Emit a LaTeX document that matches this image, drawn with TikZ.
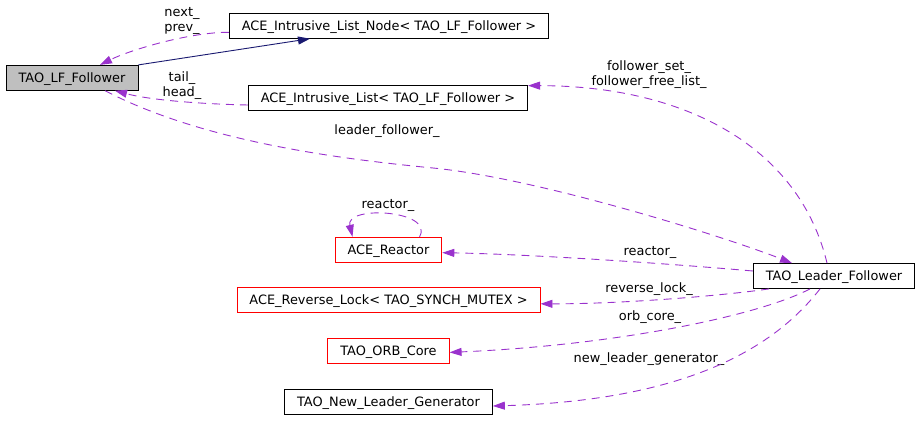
\documentclass[tikz,border=0pt]{standalone}
\usepackage{fontspec}
\setmainfont{DejaVu Sans}
\usetikzlibrary{positioning,arrows.meta}
\definecolor{edgepurple}{HTML}{9A32CD}
\definecolor{basenavy}{HTML}{191970}
\definecolor{nodegray}{HTML}{BFBFBF}
\begin{document}
\begin{tikzpicture}[x=1pt,y=-1pt,
    font=\fontsize{12.9pt}{15pt}\selectfont,
    node distance=50.6pt,
    cls/.style={draw=black,line width=0.8pt,minimum height=25pt,inner xsep=12.5pt,text height=9.3pt,text depth=0pt},
    redcls/.style={cls,draw=red},
    lnk/.style={draw=edgepurple,line width=0.9pt,dash pattern=on 8pt off 6pt,-{Triangle[length=12pt,width=8pt]}},
    lbl/.style={inner sep=0pt,align=center}]
    \useasboundingbox (0,0) rectangle (920,420);
    \node[cls,fill=nodegray] (c0) at (72,77.8) {TAO\_LF\_Follower};
      \node[cls] (c1) at (389,25.8) {ACE\_Intrusive\_List\_Node< TAO\_LF\_Follower >};
      \node[cls] (c2) at (388,97.5) {ACE\_Intrusive\_List< TAO\_LF\_Follower >};
      \node[cls] (c3) at (834,276) {TAO\_Leader\_Follower};
      \node[redcls] (c4) at (388.5,249.7) {ACE\_Reactor};
      \node[redcls, below of=c4] (c5) {ACE\_Reverse\_Lock< TAO\_SYNCH\_MUTEX >};
      \node[redcls, below of=c5] (c6) {TAO\_ORB\_Core};
      \node[cls, below of=c6] (c7) {TAO\_New\_Leader\_Generator};
      \node[lbl] (l0) at (182,20.5) {next\_\\prev\_};
      \node[lbl] (l1) at (182,86) {tail\_\\head\_};
      \node[lbl] (l2) at (387,131) {leader\_follower\_};
      \node[lbl] (l3) at (649,75) {follower\_set\_\\follower\_free\_list\_};
      \node[lbl] (l4) at (388,205) {reactor\_};
      \node[lbl] (l5) at (650,252) {reactor\_};
      \node[lbl] (l6) at (649,289) {reverse\_lock\_};
      \node[lbl] (l7) at (650,317) {orb\_core\_};
      \node[lbl] (l8) at (649,359) {new\_leader\_generator\_};
      \draw[basenavy,line width=0.9pt,-{Triangle[length=12pt,width=8pt]}] (c0.north east) -- ([xshift=-79pt]c1.south);
      \path[lnk] ([yshift=-6.5pt]c1.west) .. controls (190,32) and (130,50) .. ([xshift=28pt]c0.north);
      \path[lnk] ([yshift=-7.5pt]c2.west) .. controls (200,104) and (150,100) .. ([xshift=43pt]c0.south);
      \path[lnk] ([xshift=33pt]c0.south) .. controls (200,140) and (330,158) .. (433,168)
        .. controls (536,178) and (720,235) .. ([xshift=-42pt]c3.north);
      \path[lnk] ([xshift=-7pt]c3.north) .. controls (800,150) and (690,86) .. ([yshift=-1pt]c2.north east);
      \path[lnk] ([xshift=31pt]c4.north) .. controls (435,210) and (345,205) .. ([xshift=-36pt]c4.north);
      \path[lnk] ([yshift=5pt]c3.west) .. controls (650,262) and (520,254) .. ([yshift=-3pt]c4.east);
      \path[lnk] ([xshift=-65pt]c3.south) .. controls (720,296) and (620,304) .. ([yshift=-3.5pt]c5.east);
      \path[lnk] ([xshift=-24pt]c3.south) .. controls (760,315) and (620,345) .. ([yshift=-1.5pt]c6.east);
      \path[lnk] ([xshift=-14pt]c3.south) .. controls (780,340) and (700,400) .. ([yshift=-4.5pt]c7.east);
    \end{tikzpicture}
\end{document}
